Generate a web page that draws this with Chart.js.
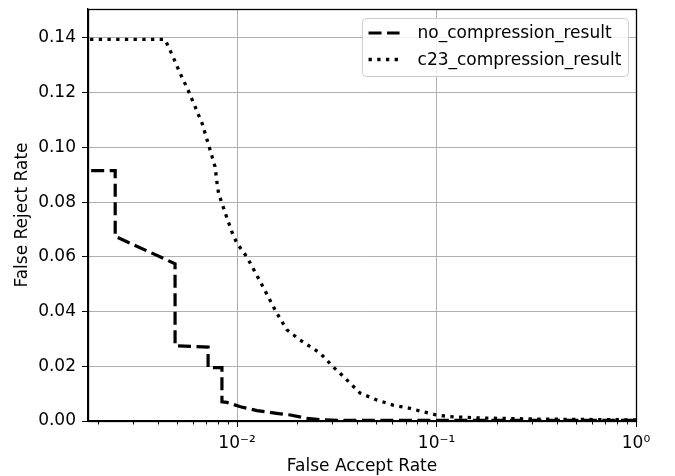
<!DOCTYPE html>
<html>
<head>
<meta charset="utf-8">
<script src="https://cdn.jsdelivr.net/npm/chart.js@4"></script>
<style>
  html, body { margin: 0; padding: 0; background: #ffffff; }
  #wrap { width: 675px; height: 476px; }
</style>
</head>
<body>
<div id="wrap"><canvas id="c" width="675" height="476"></canvas></div>
<script>
// ---- data ----
const seriesLabels = ['no_compression_result', 'c23_compression_result'];

const noCompFAR = [0.0015, 0.00245, 0.00245, 0.00489, 0.00489, 0.00716, 0.00716, 0.0084, 0.0084, 0.0089, 0.0104, 0.0126, 0.0158, 0.0185, 0.0223, 0.027, 0.035, 1.0];
const noCompFRR = [0.0915, 0.0915, 0.0675, 0.0575, 0.0275, 0.027, 0.0195, 0.0195, 0.007, 0.0068, 0.0052, 0.0038, 0.0028, 0.0022, 0.001, 0.0004, 0.0002, 0.0002];

const c23FAR = [0.0015, 0.00435, 0.00478, 0.00518, 0.00568, 0.00616, 0.00668, 0.00708, 0.0075, 0.00776, 0.00794, 0.00808, 0.00841, 0.00891, 0.00955, 0.0100, 0.0112, 0.0135, 0.0158, 0.0178, 0.0207, 0.0261, 0.0303, 0.0328, 0.0414, 0.0501, 0.0605, 0.0736, 0.0855, 0.0997, 0.117, 0.165, 0.33, 1.0];
const c23FRR = [0.1395, 0.1395, 0.1331, 0.1271, 0.121, 0.1149, 0.1088, 0.1027, 0.0966, 0.0929, 0.0869, 0.0832, 0.0795, 0.0741, 0.068, 0.0649, 0.060, 0.049, 0.0395, 0.0333, 0.0296, 0.0248, 0.0198, 0.0175, 0.0102, 0.0077, 0.0058, 0.0046, 0.0034, 0.0022, 0.0016, 0.0011, 0.0007, 0.0004];

const xMajorTicks = [0.01, 0.1, 1];
const xTickLabels = ['10\u207B\u00B2', '10\u207B\u00B9', '10\u2070'];
const yTicks = [0, 0.02, 0.04, 0.06, 0.08, 0.10, 0.12, 0.14];
const xRange = [0.00179, 1];
const yRange = [0, 0.1506];
const xTitle = 'False Accept Rate';
const yTitle = 'False Reject Rate';

// ---- helpers ----
const toPoints = (xs, ys) => xs.map((x, i) => ({ x: x, y: ys[i] }));
const FONT = 'DejaVu Sans';
const FS = 17;
Chart.defaults.font.family = FONT;
Chart.defaults.font.size = FS;
Chart.defaults.color = '#000000';

function buildLogTicks(min, max) {
  const out = [];
  for (let k = -4; k <= 1; k++) {
    for (let m = 1; m <= 9; m++) {
      const v = m * Math.pow(10, k);
      if (v >= min * 0.9999 && v <= max * 1.0001) out.push({ value: v, major: m === 1 });
    }
  }
  return out;
}

const framePlugin = {
  id: 'frame',
  afterDatasetsDraw(chart) {
    const { ctx, chartArea: a, scales } = chart;
    ctx.save();
    ctx.strokeStyle = '#000';
    ctx.lineWidth = 1;
    scales.x.ticks.forEach(t => {
      if (t.major) return;
      const px = Math.round(scales.x.getPixelForValue(t.value)) + 0.5;
      ctx.beginPath();
      ctx.moveTo(px, a.bottom);
      ctx.lineTo(px, a.bottom + 3.5);
      ctx.stroke();
    });
    ctx.lineWidth = 1.3;
    ctx.strokeRect(Math.round(a.left) + 0.5, Math.round(a.top) + 0.5, Math.round(a.right - a.left), Math.round(a.bottom - a.top));
    ctx.restore();
  },
  afterDraw(chart) {
    const { ctx, chartArea: a } = chart;
    ctx.save();
    ctx.font = FS + 'px "' + FONT + '"';
    const ds = chart.data.datasets;
    const textW = Math.max(...ds.map(d => ctx.measureText(d.label).width));
    const pad = 6.6, handle = 31, gap = 18, rowH = 26.5;
    const w = pad + handle + gap + textW + pad;
    const h = 58;
    const x0 = a.right - 8 - w;
    const y0 = a.top + 9;
    ctx.beginPath();
    ctx.roundRect(x0 + 0.5, y0 + 0.5, w, h, 4);
    ctx.fillStyle = 'rgba(255,255,255,0.8)';
    ctx.fill();
    ctx.strokeStyle = '#cccccc';
    ctx.lineWidth = 1;
    ctx.stroke();
    ds.forEach((d, i) => {
      const cy = y0 + 15 + i * rowH;
      ctx.beginPath();
      ctx.setLineDash(d.borderDash || []);
      ctx.lineWidth = d.borderWidth;
      ctx.strokeStyle = d.borderColor;
      ctx.lineCap = 'butt';
      ctx.moveTo(x0 + pad, cy);
      ctx.lineTo(x0 + pad + handle, cy);
      ctx.stroke();
      ctx.setLineDash([]);
      ctx.fillStyle = '#000';
      ctx.textBaseline = 'middle';
      ctx.textAlign = 'left';
      ctx.fillText(d.label, x0 + pad + handle + gap, cy + 1);
    });
    ctx.restore();
  }
};

new Chart(document.getElementById('c'), {
  type: 'line',
  data: {
    datasets: [
      {
        label: seriesLabels[0],
        data: toPoints(noCompFAR, noCompFRR),
        borderColor: '#000000',
        borderWidth: 3.2,
        borderDash: [13, 5.5],
        pointRadius: 0,
        tension: 0,
        fill: false
      },
      {
        label: seriesLabels[1],
        data: toPoints(c23FAR, c23FRR),
        borderColor: '#000000',
        borderWidth: 3.3,
        borderDash: [3.3, 5.4],
        pointRadius: 0,
        tension: 0,
        fill: false
      }
    ]
  },
  options: {
    responsive: false,
    animation: false,
    devicePixelRatio: 1,
    layout: { padding: { top: 9, right: 39, left: 0, bottom: 0 } },
    plugins: { legend: { display: false }, tooltip: { enabled: false } },
    scales: {
      x: {
        type: 'logarithmic',
        position: 'bottom',
        min: xRange[0],
        max: xRange[1],
        afterBuildTicks(scale) { scale.ticks = buildLogTicks(xRange[0], xRange[1]); },
        afterFit(scale) { scale.height = 55; scale.paddingLeft = 0; scale.paddingRight = 0; },
        ticks: {
          autoSkip: false,
          maxRotation: 0,
          padding: 6,
          color: '#000',
          font: { size: FS },
          callback(value) {
            const i = xMajorTicks.findIndex(v => Math.abs(v - value) / v < 1e-6);
            return i >= 0 ? xTickLabels[i] : '';
          }
        },
        grid: {
          drawTicks: true,
          tickLength: 6,
          lineWidth: 1,
          color: ctx => (ctx.tick && ctx.tick.major) ? '#b0b0b0' : 'rgba(0,0,0,0)',
          tickColor: ctx => (ctx.tick && ctx.tick.major) ? '#000' : 'rgba(0,0,0,0)'
        },
        border: { display: true, color: '#000', width: 1.3 },
        title: { display: true, text: xTitle, color: '#000', font: { size: FS, lineHeight: 1.05 }, padding: 0 }
      },
      y: {
        type: 'linear',
        position: 'left',
        min: yRange[0],
        max: yRange[1],
        afterBuildTicks(scale) { scale.ticks = yTicks.map(v => ({ value: v })); },
        afterFit(scale) { scale.width = 88; scale.paddingTop = 0; scale.paddingBottom = 0; },
        ticks: {
          autoSkip: false,
          padding: 6,
          color: '#000',
          font: { size: FS },
          callback(value) { return Number(value).toFixed(2); }
        },
        grid: {
          drawTicks: true,
          tickLength: 6,
          lineWidth: 1,
          color: '#b0b0b0',
          tickColor: '#000'
        },
        border: { display: true, color: '#000', width: 1.3 },
        title: { display: true, text: yTitle, color: '#000', font: { size: FS }, padding: 12 }
      }
    }
  },
  plugins: [framePlugin]
});
</script>
</body>
</html>
